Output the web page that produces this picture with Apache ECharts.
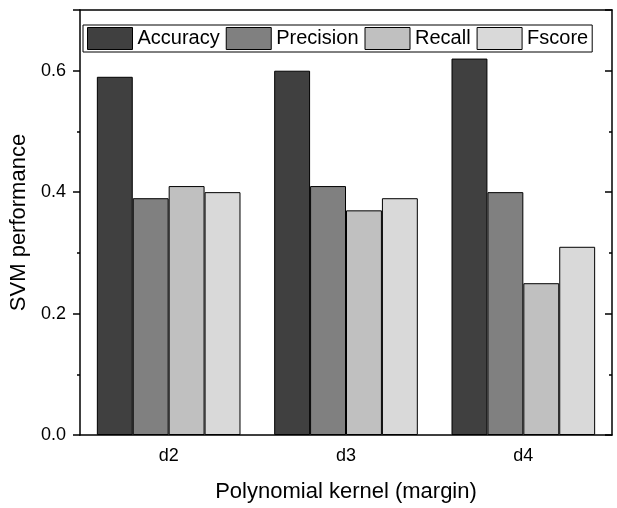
<!DOCTYPE html>
<html>
<head>
<meta charset="utf-8">
<script src="https://cdn.jsdelivr.net/npm/echarts@6/dist/echarts.min.js"></script>
<style>
  html, body { margin: 0; padding: 0; background: #fff; }
  #chart { width: 617px; height: 508px; }
</style>
</head>
<body>
<div id="chart"></div>
<script>
// 数据
var categories = ['d2', 'd3', 'd4'];
var seriesNames = ['Accuracy', 'Precision', 'Recall', 'Fscore'];
var accuracy = [0.59, 0.60, 0.62];
var precision = [0.39, 0.41, 0.40];
var recall = [0.41, 0.37, 0.25];
var fscore = [0.40, 0.39, 0.31];
var colors = ['#404040', '#808080', '#c0c0c0', '#d9d9d9'];

var chart = echarts.init(document.getElementById('chart'));

function makeBar(name, data, color) {
    return {
        name: name,
        type: 'bar',
        data: data,
        xAxisIndex: 0,
        yAxisIndex: 0,
        barGap: '0%',
        barCategoryGap: '19%',
        itemStyle: { color: color, borderColor: '#000', borderWidth: 1 }
    };
}

var lineStyle = { color: '#000', width: 1.5 };
var font = 'Liberation Sans, Arial, sans-serif';

var option = {
    animation: false,
    textStyle: { fontFamily: font, color: '#000' },
    grid: { left: 80, right: 5, top: 10, bottom: 72 },
    legend: {
        data: seriesNames,
        left: 83,
        top: 25,
        padding: [2, 4, 2, 4],
        itemGap: 6,
        itemWidth: 45,
        itemHeight: 22,
        borderColor: '#000',
        borderWidth: 1,
        icon: 'rect',
        itemStyle: { borderColor: '#000', borderWidth: 1 },
        textStyle: { fontSize: 20, fontFamily: font, color: '#000' }
    },
    xAxis: [
        {
            type: 'category',
            position: 'bottom',
            data: categories,
            name: 'Polynomial kernel (margin)',
            nameLocation: 'middle',
            nameGap: 46,
            nameTextStyle: { fontSize: 22, color: '#000' },
            axisLine: { lineStyle: lineStyle },
            axisTick: { alignWithLabel: true, length: 7, lineStyle: lineStyle },
            axisLabel: { fontSize: 18, color: '#000', margin: 12 }
        },
        {
            type: 'category',
            position: 'bottom',
            data: categories,
            axisLine: { show: false },
            axisTick: { length: 3, lineStyle: lineStyle },
            axisLabel: { show: false }
        },
        {
            type: 'category',
            position: 'top',
            data: categories,
            axisLine: { lineStyle: lineStyle },
            axisTick: { inside: true, length: 6, lineStyle: lineStyle },
            axisLabel: { show: false }
        },
        {
            type: 'category',
            position: 'top',
            data: categories,
            axisLine: { show: false },
            axisTick: { inside: true, alignWithLabel: true, length: 6, lineStyle: lineStyle },
            axisLabel: { show: false }
        }
    ],
    yAxis: [
        {
            type: 'value',
            position: 'left',
            min: 0,
            max: 0.7,
            interval: 0.2,
            name: 'SVM performance',
            nameLocation: 'middle',
            nameGap: 41,
            nameTextStyle: { fontSize: 22, color: '#000' },
            axisLine: { show: true, lineStyle: lineStyle },
            axisTick: { show: true, length: 7, lineStyle: lineStyle },
            minorTick: { show: true, splitNumber: 2, length: 3, lineStyle: { color: '#000', width: 1.5 } },
            splitLine: { show: false },
            axisLabel: {
                fontSize: 18,
                color: '#000',
                margin: 14,
                showMaxLabel: false,
                formatter: function (v) { return v.toFixed(1); }
            }
        },
        {
            type: 'value',
            position: 'right',
            min: 0,
            max: 0.7,
            interval: 0.2,
            axisLine: { show: true, lineStyle: lineStyle },
            axisTick: { show: true, inside: true, length: 7, lineStyle: lineStyle },
            minorTick: { show: true, splitNumber: 2, length: 3, lineStyle: { color: '#000', width: 1.5 } },
            splitLine: { show: false },
            axisLabel: { show: false }
        }
    ],
    series: [
        makeBar(seriesNames[0], accuracy, colors[0]),
        makeBar(seriesNames[1], precision, colors[1]),
        makeBar(seriesNames[2], recall, colors[2]),
        makeBar(seriesNames[3], fscore, colors[3])
    ]
};

chart.setOption(option);
</script>
</body>
</html>
